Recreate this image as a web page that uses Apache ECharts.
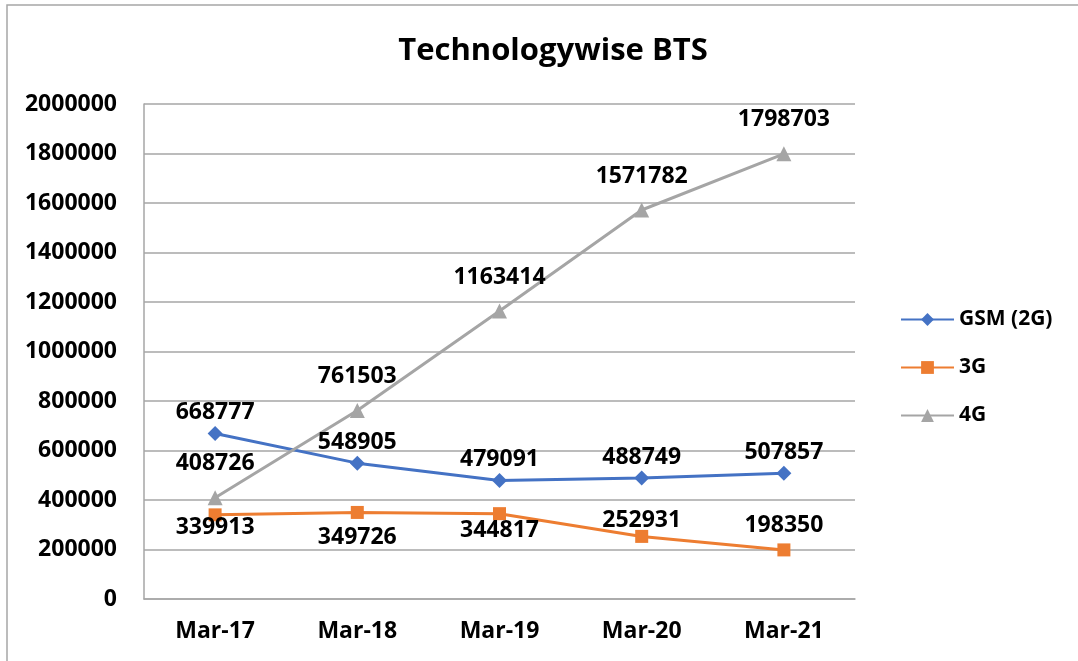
<!DOCTYPE html>
<html>
<head>
<meta charset="utf-8">
<script src="https://cdn.jsdelivr.net/npm/echarts@6/dist/echarts.min.js"></script>
<style>
  html, body { margin: 0; padding: 0; background: #fff; }
  #chart { width: 1078px; height: 661px; }
</style>
</head>
<body>
<div id="chart"></div>
<script>
// data
const categories = ['Mar-17', 'Mar-18', 'Mar-19', 'Mar-20', 'Mar-21'];
const gsm = [668777, 548905, 479091, 488749, 507857];
const g3 = [339913, 349726, 344817, 252931, 198350];
const g4 = [408726, 761503, 1163414, 1571782, 1798703];

// where each 3G label sits (the other two series are all above)
const g3LabelPos = [['bottom', -5], ['bottom', 7], ['bottom', -1], ['top', -2], ['top', 6]];

const FONT = '"Open Sans", "Noto Sans", sans-serif';

function renderChart() {
  const chart = echarts.init(document.getElementById('chart'));
  const labelStyle = {
    show: true,
    fontFamily: FONT,
    fontWeight: 'bold',
    fontSize: 23,
    color: '#000',
  };
  const option = {
    animation: false,
    textStyle: { fontFamily: FONT },
    graphic: [
      {
        type: 'rect',
        shape: { x: 7, y: 5, width: 1200, height: 800 },
        style: { fill: 'none', stroke: '#a6a6a6', lineWidth: 1.5 },
        silent: true,
      }
    ],
    title: {
      text: 'Technologywise BTS',
      left: 548,
      textAlign: 'center',
      top: 31,
      textStyle: { fontFamily: FONT, fontWeight: 'bold', fontSize: 31, color: '#000' },
    },
    legend: {
      orient: 'vertical',
      left: 895,
      top: 304,
      itemWidth: 53,
      itemHeight: 16,
      itemGap: 27,
      textStyle: { fontFamily: FONT, fontWeight: 'bold', fontSize: 21, color: '#000' },
      data: ['GSM (2G)', '3G', '4G'],
    },
    grid: {
      left: 144,
      right: 223,
      top: 104,
      bottom: 62,
    },
    xAxis: {
      type: 'category',
      data: categories,
      axisLine: { lineStyle: { color: '#a6a6a6', width: 1.5 } },
      axisTick: { show: false },
      axisLabel: { fontFamily: FONT, fontWeight: 'bold', fontSize: 23, color: '#000', margin: 21 },
    },
    yAxis: {
      type: 'value',
      min: 0,
      max: 2000000,
      interval: 200000,
      axisLine: { show: true, lineStyle: { color: '#a6a6a6', width: 1.5 } },
      axisTick: { show: false },
      splitLine: { lineStyle: { color: '#a6a6a6', width: 1.5 } },
      axisLabel: {
        fontFamily: FONT, fontWeight: 'bold', fontSize: 23, color: '#000', margin: 27,
        formatter: v => String(v),
      },
    },
    series: [
      {
        name: 'GSM (2G)',
        type: 'line',
        data: gsm,
        color: '#4472C4',
        symbol: 'diamond',
        symbolSize: 15,
        lineStyle: { width: 3 },
        label: Object.assign({}, labelStyle, { position: 'top', distance: 2 }),
      },
      {
        name: '3G',
        type: 'line',
        data: g3.map((v, i) => ({
          value: v,
          label: { position: g3LabelPos[i][0], distance: g3LabelPos[i][1] },
        })),
        color: '#ED7D31',
        symbol: 'rect',
        symbolSize: 13,
        lineStyle: { width: 3 },
        label: labelStyle,
      },
      {
        name: '4G',
        type: 'line',
        data: g4,
        color: '#A5A5A5',
        symbol: 'triangle',
        symbolSize: 15,
        lineStyle: { width: 3 },
        label: Object.assign({}, labelStyle, { position: 'top', distance: 15 }),
      },
    ]
  };
  chart.setOption(option, true);
}

renderChart();
</script>
</body>
</html>
